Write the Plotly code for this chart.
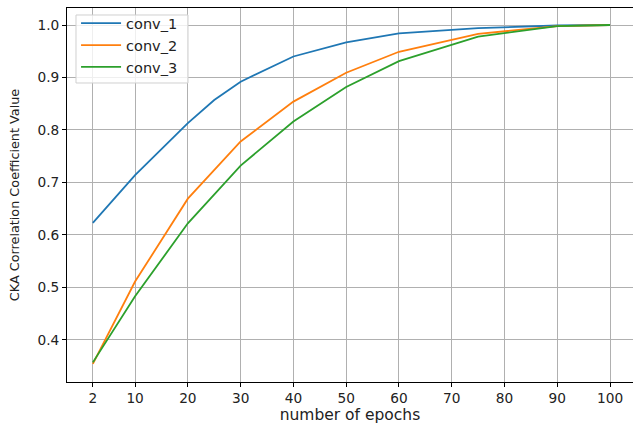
import plotly.graph_objects as go

epochs = [2, 10, 20, 25, 30, 40, 50, 60, 75, 90, 100]
conv_1 = [0.623, 0.714, 0.813, 0.857, 0.892, 0.940, 0.967, 0.984, 0.994, 0.999, 1.0]
conv_2 = [0.354, 0.511, 0.669, 0.724, 0.778, 0.854, 0.909, 0.949, 0.983, 0.998, 1.0]
conv_3 = [0.357, 0.483, 0.622, 0.677, 0.732, 0.816, 0.882, 0.931, 0.978, 0.998, 1.0]
x_ticks = [2, 10, 20, 30, 40, 50, 60, 70, 80, 90, 100]
y_ticks = [0.4, 0.5, 0.6, 0.7, 0.8, 0.9, 1.0]

series = [("conv_1", conv_1, "#1f77b4"), ("conv_2", conv_2, "#ff7f0e"), ("conv_3", conv_3, "#2ca02c")]

fig = go.Figure()
for name, vals, col in series:
    fig.add_trace(go.Scatter(x=epochs, y=vals, mode="lines", name=name,
                             line=dict(color=col, width=1.8)))

axis_common = dict(showline=True, linecolor="black", linewidth=1, mirror=True,
                   showgrid=True, gridcolor="#b0b0b0", gridwidth=1,
                   ticks="outside", ticklen=4, tickcolor="black",
                   tickfont=dict(family="DejaVu Sans", size=13.7, color="#222"),
                   zeroline=False)

# legend frame (matplotlib-style box)
fig.add_shape(type="rect", xref="paper", yref="paper",
              x0=0.0159, x1=0.2138, y0=0.7995, y1=0.9813,
              line=dict(color="#d0d0d0", width=1), fillcolor="rgba(255,255,255,0.8)",
              layer="above")

fig.update_layout(
    width=633, height=428,
    margin=dict(l=67, r=0, t=8, b=46),
    paper_bgcolor="white", plot_bgcolor="white",
    font=dict(family="DejaVu Sans", size=13, color="#222"),
    xaxis=dict(range=[-2.9, 104.35], tickvals=x_ticks,
               title=dict(text="number of epochs", standoff=2,
                          font=dict(family="DejaVu Sans", size=15.5)),
               **axis_common),
    yaxis=dict(range=[0.3196, 1.0324], tickvals=y_ticks, tickformat=".1f",
               title=dict(text="CKA Correlation Coefficient Value", standoff=14,
                          font=dict(family="DejaVu Sans", size=12.8)),
               **axis_common),
    legend=dict(x=0.016, y=1.002, xanchor="left", yanchor="top",
                bgcolor="rgba(0,0,0,0)", borderwidth=0,
                font=dict(family="DejaVu Sans", size=14.5, color="#222"),
                tracegroupgap=0, itemwidth=40),
    showlegend=True,
)

fig.write_html("out.html")
